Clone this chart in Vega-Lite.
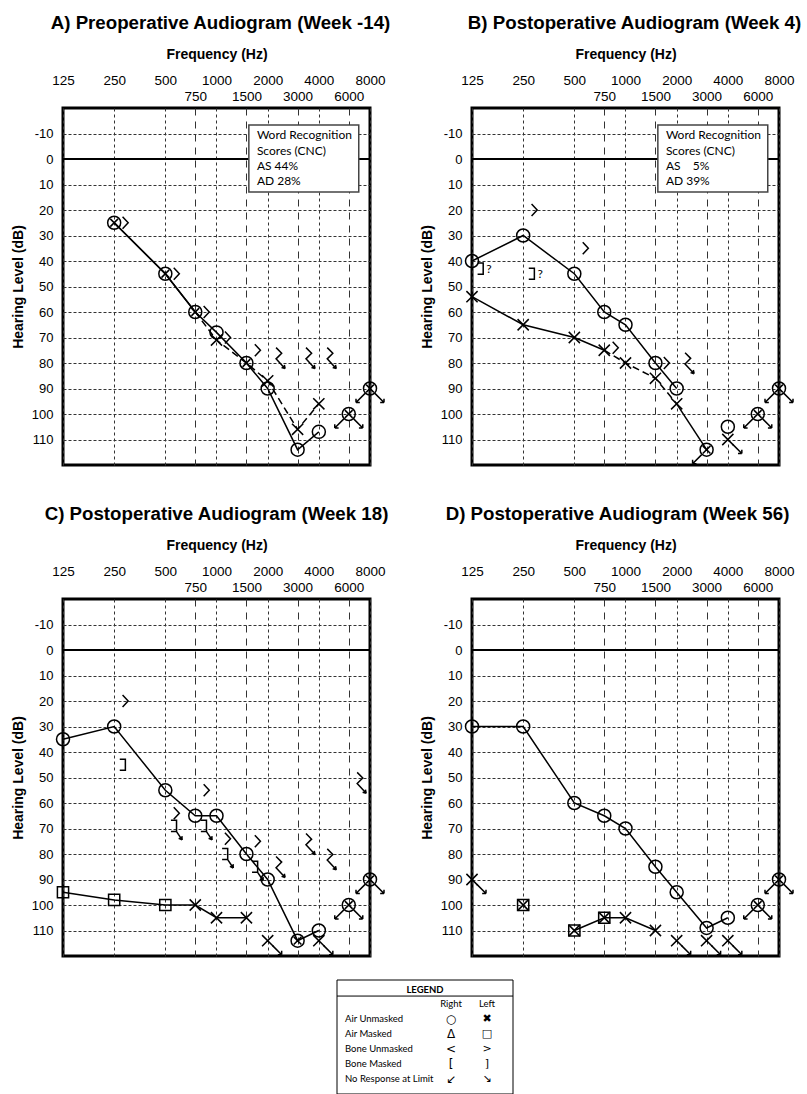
{
"$schema": "https://vega.github.io/schema/vega-lite/v6.json",
"background": "white",
"padding": {"left": 9, "top": 12, "right": 0, "bottom": 0},
"datasets": {
"A_line": [{"g":"R","f":250,"db":25},{"g":"R","f":500,"db":45},{"g":"R","f":750,"db":60},{"g":"R","f":1000,"db":68},{"g":"R","f":1500,"db":80},{"g":"R","f":2000,"db":90},{"g":"R","f":3000,"db":114},{"g":"R","f":4000,"db":107},
 {"g":"L","f":250,"db":25},{"g":"L","f":500,"db":45},{"g":"L","f":750,"db":60}],
"A_dline": [{"g":"L","f":750,"db":60},{"g":"L","f":1000,"db":71},{"g":"L","f":1500,"db":80},{"g":"L","f":2000,"db":87},{"g":"L","f":3000,"db":106},{"g":"L","f":4000,"db":96}],
"A_pts": [
{"f":250,"db":25,"s":"O"},{"f":250,"db":25,"s":"x"},{"f":250,"db":25,"s":"gt"},
{"f":500,"db":45,"s":"O"},{"f":500,"db":45,"s":"x"},{"f":500,"db":45,"s":"gt"},
{"f":750,"db":60,"s":"O"},{"f":750,"db":60,"s":"x"},{"f":750,"db":60,"s":"gt"},
{"f":1000,"db":68,"s":"O"},{"f":1000,"db":71,"s":"X"},{"f":1000,"db":70,"s":"gt"},
{"f":1500,"db":80,"s":"O"},{"f":1500,"db":80,"s":"x"},{"f":1500,"db":75,"s":"gt"},
{"f":2000,"db":90,"s":"O"},{"f":2000,"db":87,"s":"X"},{"f":2000,"db":77,"s":"gtNR"},
{"f":3000,"db":114,"s":"O"},{"f":3000,"db":106,"s":"X"},{"f":3000,"db":77,"s":"gtNR"},
{"f":4000,"db":107,"s":"O"},{"f":4000,"db":96,"s":"X"},{"f":4000,"db":77,"s":"gtNR"},
{"f":6000,"db":100,"s":"O"},{"f":6000,"db":100,"s":"x"},{"f":6000,"db":100,"s":"arrL"},{"f":6000,"db":100,"s":"arrR"},
{"f":8000,"db":90,"s":"O"},{"f":8000,"db":90,"s":"x"},{"f":8000,"db":90,"s":"arrL"},{"f":8000,"db":90,"s":"arrR"}],
"B_line": [{"g":"R","f":125,"db":40},{"g":"R","f":250,"db":30},{"g":"R","f":500,"db":45},{"g":"R","f":750,"db":60},{"g":"R","f":1000,"db":65},{"g":"R","f":1500,"db":80},{"g":"R","f":2000,"db":90},
 {"g":"L1","f":125,"db":54},{"g":"L1","f":250,"db":65},{"g":"L1","f":500,"db":70},{"g":"L1","f":750,"db":75},
 {"g":"L2","f":2000,"db":96},{"g":"L2","f":3000,"db":114}],
"B_dline": [{"g":"L","f":750,"db":75},{"g":"L","f":1000,"db":80},{"g":"L","f":1500,"db":86},{"g":"L","f":2000,"db":96}],
"B_pts": [
{"f":125,"db":40,"s":"O"},{"f":125,"db":43,"s":"rb"},{"f":125,"db":54,"s":"X"},
{"f":250,"db":30,"s":"O"},{"f":250,"db":20,"s":"gt"},{"f":250,"db":45,"s":"rb"},{"f":250,"db":65,"s":"X"},
{"f":500,"db":45,"s":"O"},{"f":500,"db":35,"s":"gt"},{"f":500,"db":70,"s":"X"},
{"f":750,"db":60,"s":"O"},{"f":750,"db":74,"s":"gt"},{"f":750,"db":75,"s":"X"},
{"f":1000,"db":65,"s":"O"},{"f":1000,"db":80,"s":"X"},
{"f":1500,"db":80,"s":"O"},{"f":1500,"db":80,"s":"gt"},{"f":1500,"db":86,"s":"X"},
{"f":2000,"db":90,"s":"O"},{"f":2000,"db":96,"s":"X"},{"f":2000,"db":79,"s":"gtNR"},
{"f":3000,"db":114,"s":"O"},{"f":3000,"db":114,"s":"x"},{"f":3000,"db":114,"s":"arrL"},
{"f":4000,"db":105,"s":"O"},{"f":4000,"db":110,"s":"X"},{"f":4000,"db":110,"s":"arrR"},
{"f":6000,"db":100,"s":"O"},{"f":6000,"db":100,"s":"x"},{"f":6000,"db":100,"s":"arrL"},{"f":6000,"db":100,"s":"arrR"},
{"f":8000,"db":90,"s":"O"},{"f":8000,"db":90,"s":"x"},{"f":8000,"db":90,"s":"arrL"},{"f":8000,"db":90,"s":"arrR"}],
"B_q": [{"f":125,"db":43,"t":"?"},{"f":250,"db":45,"t":"?"}],
"C_line": [{"g":"R","f":125,"db":35},{"g":"R","f":250,"db":30},{"g":"R","f":500,"db":55},{"g":"R","f":750,"db":65},{"g":"R","f":1000,"db":65},{"g":"R","f":1500,"db":80},{"g":"R","f":2000,"db":90},{"g":"R","f":3000,"db":114},{"g":"R","f":4000,"db":110},
 {"g":"L","f":125,"db":95},{"g":"L","f":250,"db":98},{"g":"L","f":500,"db":100},{"g":"L","f":750,"db":100},{"g":"L","f":1000,"db":105},{"g":"L","f":1500,"db":105}],
"C_pts": [
{"f":125,"db":35,"s":"O"},{"f":125,"db":95,"s":"SQ"},
{"f":250,"db":30,"s":"O"},{"f":250,"db":20,"s":"gt"},{"f":250,"db":45,"s":"rb"},{"f":250,"db":98,"s":"SQ"},
{"f":500,"db":55,"s":"O"},{"f":500,"db":64,"s":"gt"},{"f":500,"db":69,"s":"rbNR"},{"f":500,"db":100,"s":"SQ"},
{"f":750,"db":65,"s":"O"},{"f":750,"db":55,"s":"gt"},{"f":750,"db":69,"s":"rbNR"},{"f":750,"db":100,"s":"X"},
{"f":1000,"db":65,"s":"O"},{"f":1000,"db":74,"s":"gt"},{"f":1000,"db":80,"s":"rbNR"},{"f":1000,"db":105,"s":"X"},
{"f":1500,"db":80,"s":"O"},{"f":1500,"db":75,"s":"gt"},{"f":1500,"db":85,"s":"rbNR"},{"f":1500,"db":105,"s":"X"},
{"f":2000,"db":90,"s":"O"},{"f":2000,"db":84,"s":"gtNR"},{"f":2000,"db":114,"s":"X"},{"f":2000,"db":114,"s":"arrR"},
{"f":3000,"db":114,"s":"O"},{"f":3000,"db":114,"s":"x"},{"f":3000,"db":75,"s":"gtNR"},
{"f":4000,"db":110,"s":"O"},{"f":4000,"db":81,"s":"gtNR"},{"f":4000,"db":114,"s":"X"},{"f":4000,"db":114,"s":"arrR"},
{"f":6000,"db":51,"s":"gtNR"},
{"f":6000,"db":100,"s":"O"},{"f":6000,"db":100,"s":"x"},{"f":6000,"db":100,"s":"arrL"},{"f":6000,"db":100,"s":"arrR"},
{"f":8000,"db":90,"s":"O"},{"f":8000,"db":90,"s":"x"},{"f":8000,"db":90,"s":"arrL"},{"f":8000,"db":90,"s":"arrR"}],
"D_line": [{"g":"R","f":125,"db":30},{"g":"R","f":250,"db":30},{"g":"R","f":500,"db":60},{"g":"R","f":750,"db":65},{"g":"R","f":1000,"db":70},{"g":"R","f":1500,"db":85},{"g":"R","f":2000,"db":95},{"g":"R","f":3000,"db":109},{"g":"R","f":4000,"db":105},
 {"g":"L","f":500,"db":110},{"g":"L","f":750,"db":105},{"g":"L","f":1000,"db":105},{"g":"L","f":1500,"db":110}],
"D_pts": [
{"f":125,"db":30,"s":"O"},{"f":125,"db":90,"s":"X"},{"f":125,"db":90,"s":"arrR"},
{"f":250,"db":30,"s":"O"},{"f":250,"db":100,"s":"SQ"},{"f":250,"db":100,"s":"X"},
{"f":500,"db":60,"s":"O"},{"f":500,"db":110,"s":"SQ"},{"f":500,"db":110,"s":"X"},
{"f":750,"db":65,"s":"O"},{"f":750,"db":105,"s":"SQ"},{"f":750,"db":105,"s":"X"},
{"f":1000,"db":70,"s":"O"},{"f":1000,"db":105,"s":"X"},
{"f":1500,"db":85,"s":"O"},{"f":1500,"db":110,"s":"X"},
{"f":2000,"db":95,"s":"O"},{"f":2000,"db":114,"s":"X"},{"f":2000,"db":114,"s":"arrR"},
{"f":3000,"db":109,"s":"O"},{"f":3000,"db":114,"s":"X"},{"f":3000,"db":114,"s":"arrR"},
{"f":4000,"db":105,"s":"O"},{"f":4000,"db":114,"s":"X"},{"f":4000,"db":114,"s":"arrR"},
{"f":6000,"db":100,"s":"O"},{"f":6000,"db":100,"s":"x"},{"f":6000,"db":100,"s":"arrL"},{"f":6000,"db":100,"s":"arrR"},
{"f":8000,"db":90,"s":"O"},{"f":8000,"db":90,"s":"x"},{"f":8000,"db":90,"s":"arrL"},{"f":8000,"db":90,"s":"arrR"}],
"leg": [{"i":1,"label":"Air Unmasked","r":"○","l":"✖"},{"i":2,"label":"Air Masked","r":"Δ","l":"□"},{"i":3,"label":"Bone Unmasked","r":"<","l":">"},{"i":4,"label":"Bone Masked","r":"[","l":"]"},{"i":5,"label":"No Response at Limit","r":"↙","l":"↘"}],
"legh": [{"i":0,"r":"Right","l":"Left"}]
},
"spacing": 19,
"vconcat": [
{"concat": [
{"title": {"text": "A) Preoperative Audiogram (Week -14)", "dx": 4},
 "width": 307, "height": 357,
 "resolve": {"axis": {"x": "independent", "y": "independent"}},
 "layer": [
  {"data": {"values": [{}]}, "mark": {"type": "rule", "color": "black", "strokeWidth": 2},
   "encoding": {"y": {"datum": 0, "type": "quantitative", "scale": {"domain": [-20,120], "reverse": true, "nice": false, "zero": false}, "axis": null}}},
  {"data": {"values": [{}]}, "mark": {"type": "rect", "fill": "white", "stroke": "#444", "strokeWidth": 1.5},
   "encoding": {"x": {"datum": 1550, "type": "quantitative", "scale": {"type": "log", "domain": [125,8000], "nice": false}, "axis": null}, "x2": {"datum": 6870},
    "y": {"datum": -13.3, "type": "quantitative", "scale": {"domain": [-20,120], "reverse": true, "nice": false, "zero": false}, "axis": null}, "y2": {"datum": 12.9}}},
  {"data": {"values": [{}]}, "mark": {"type": "text", "align": "left", "baseline": "alphabetic", "font": "Lato", "fontSize": 12, "lineHeight": 15.2, "color": "black"},
   "encoding": {"x": {"datum": 1728, "type": "quantitative", "scale": {"type": "log", "domain": [125,8000], "nice": false}, "axis": null},
    "y": {"datum": -7.7, "type": "quantitative", "scale": {"domain": [-20,120], "reverse": true, "nice": false, "zero": false}, "axis": null},
    "text": {"value": ["Word Recognition", "Scores (CNC)", "AS 44%", "AD 28%"]}}},
  {"data": {"name": "A_line"}, "mark": {"type": "line", "color": "black", "strokeWidth": 1.5},
   "encoding": {"x": {"field": "f", "type": "quantitative", "scale": {"type": "log", "domain": [125,8000], "nice": false},
     "axis": {"orient": "top", "values": [125,250,500,1000,2000,4000,8000], "grid": true, "gridDash": [3,3], "labelExpr": "'' + datum.value", "labelPadding": 21, "title": "Frequency (Hz)", "titlePadding": 12}},
    "y": {"field": "db", "type": "quantitative", "scale": {"domain": [-20,120], "reverse": true, "nice": false, "zero": false}, "axis": null},
    "detail": {"field": "g"}}},
  {"data": {"name": "A_dline"}, "mark": {"type": "line", "color": "black", "strokeWidth": 1.5, "strokeDash": [7,4]},
   "encoding": {"x": {"field": "f", "type": "quantitative", "scale": {"type": "log", "domain": [125,8000], "nice": false}, "axis": null},
    "y": {"field": "db", "type": "quantitative", "scale": {"domain": [-20,120], "reverse": true, "nice": false, "zero": false}, "axis": null},
    "detail": {"field": "g"}}},
  {"data": {"name": "A_pts"}, "mark": {"type": "point", "filled": false, "color": "black", "strokeWidth": 1.5, "size": 196, "opacity": 1},
   "encoding": {"x": {"field": "f", "type": "quantitative", "scale": {"type": "log", "domain": [125,8000], "nice": false},
     "axis": {"orient": "top", "values": [750,1500,3000,6000], "grid": true, "gridDash": [7,6], "labelExpr": "'' + datum.value", "labelPadding": 4.5, "title": null}},
    "y": {"field": "db", "type": "quantitative", "scale": {"domain": [-20,120], "reverse": true, "nice": false, "zero": false},
     "axis": {"orient": "left", "values": [-10,0,10,20,30,40,50,60,70,80,90,100,110], "grid": true, "gridDash": [3,2], "labelExpr": "'' + datum.value", "labelFontSize": 13, "labelPadding": 10, "title": "Hearing Level (dB)", "titlePadding": 6}},
    "shape": {"field": "s", "type": "nominal", "legend": null, "scale": {"domain": ["O","X","x","SQ","gt","rb","gtNR","rbNR","arrL","arrR"], "range": ["M0.93,0A0.93,0.93,0,1,1,-0.93,0A0.93,0.93,0,1,1,0.93,0Z","M-0.8,-0.8L0.8,0.8M-0.8,0.8L0.8,-0.8","M-0.55,-0.55L0.55,0.55M-0.55,0.55L0.55,-0.55","M-0.8,-0.8L0.8,-0.8L0.8,0.8L-0.8,0.8Z","M1.2,-0.85L2,0L1.2,0.85","M0.8,-0.8L1.6,-0.8L1.6,0.8L0.8,0.8","M1.2,-1.1L2,-0.3L1.2,0.5L2.5,1.9M2.5,1.9L1.98,1.74M2.5,1.9L2.38,1.37","M0.8,-0.8L1.6,-0.8L1.6,0.8L0.8,0.8M1.6,0.8L2.4,2M2.4,2L1.91,1.76M2.4,2L2.37,1.45","M-0.7,0.7L-2,2M-2,2L-1.45,2M-2,2L-2,1.45","M0.7,0.7L2,2M2,2L1.45,2M2,2L2,1.45"]}}}}
 ]},
{"title": {"text": "B) Postoperative Audiogram (Week 4)", "dx": 9},
 "width": 307, "height": 357,
 "resolve": {"axis": {"x": "independent", "y": "independent"}},
 "layer": [
  {"data": {"values": [{}]}, "mark": {"type": "rule", "color": "black", "strokeWidth": 2},
   "encoding": {"y": {"datum": 0, "type": "quantitative", "scale": {"domain": [-20,120], "reverse": true, "nice": false, "zero": false}, "axis": null}}},
  {"data": {"values": [{}]}, "mark": {"type": "rect", "fill": "white", "stroke": "#444", "strokeWidth": 1.5},
   "encoding": {"x": {"datum": 1550, "type": "quantitative", "scale": {"type": "log", "domain": [125,8000], "nice": false}, "axis": null}, "x2": {"datum": 6870},
    "y": {"datum": -13.3, "type": "quantitative", "scale": {"domain": [-20,120], "reverse": true, "nice": false, "zero": false}, "axis": null}, "y2": {"datum": 12.9}}},
  {"data": {"values": [{}]}, "mark": {"type": "text", "align": "left", "baseline": "alphabetic", "font": "Lato", "fontSize": 12, "lineHeight": 15.2, "color": "black"},
   "encoding": {"x": {"datum": 1728, "type": "quantitative", "scale": {"type": "log", "domain": [125,8000], "nice": false}, "axis": null},
    "y": {"datum": -7.7, "type": "quantitative", "scale": {"domain": [-20,120], "reverse": true, "nice": false, "zero": false}, "axis": null},
    "text": {"value": ["Word Recognition", "Scores (CNC)", "AS\u00a0\u00a0\u00a0\u00a05%", "AD 39%"]}}},
  {"data": {"name": "B_line"}, "mark": {"type": "line", "color": "black", "strokeWidth": 1.5},
   "encoding": {"x": {"field": "f", "type": "quantitative", "scale": {"type": "log", "domain": [125,8000], "nice": false},
     "axis": {"orient": "top", "values": [125,250,500,1000,2000,4000,8000], "grid": true, "gridDash": [3,3], "labelExpr": "'' + datum.value", "labelPadding": 21, "title": "Frequency (Hz)", "titlePadding": 12}},
    "y": {"field": "db", "type": "quantitative", "scale": {"domain": [-20,120], "reverse": true, "nice": false, "zero": false}, "axis": null},
    "detail": {"field": "g"}}},
  {"data": {"name": "B_dline"}, "mark": {"type": "line", "color": "black", "strokeWidth": 1.5, "strokeDash": [7,4]},
   "encoding": {"x": {"field": "f", "type": "quantitative", "scale": {"type": "log", "domain": [125,8000], "nice": false}, "axis": null},
    "y": {"field": "db", "type": "quantitative", "scale": {"domain": [-20,120], "reverse": true, "nice": false, "zero": false}, "axis": null},
    "detail": {"field": "g"}}},
  {"data": {"name": "B_q"}, "mark": {"type": "text", "align": "center", "baseline": "middle", "dx": 17, "font": "Lato", "fontSize": 12, "color": "black"},
   "encoding": {"x": {"field": "f", "type": "quantitative", "scale": {"type": "log", "domain": [125,8000], "nice": false}, "axis": null},
    "y": {"field": "db", "type": "quantitative", "scale": {"domain": [-20,120], "reverse": true, "nice": false, "zero": false}, "axis": null},
    "text": {"field": "t"}}},
  {"data": {"name": "B_pts"}, "mark": {"type": "point", "filled": false, "color": "black", "strokeWidth": 1.5, "size": 196, "opacity": 1},
   "encoding": {"x": {"field": "f", "type": "quantitative", "scale": {"type": "log", "domain": [125,8000], "nice": false},
     "axis": {"orient": "top", "values": [750,1500,3000,6000], "grid": true, "gridDash": [7,6], "labelExpr": "'' + datum.value", "labelPadding": 4.5, "title": null}},
    "y": {"field": "db", "type": "quantitative", "scale": {"domain": [-20,120], "reverse": true, "nice": false, "zero": false},
     "axis": {"orient": "left", "values": [-10,0,10,20,30,40,50,60,70,80,90,100,110], "grid": true, "gridDash": [3,2], "labelExpr": "'' + datum.value", "labelFontSize": 13, "labelPadding": 10, "title": "Hearing Level (dB)", "titlePadding": 6}},
    "shape": {"field": "s", "type": "nominal", "legend": null, "scale": {"domain": ["O","X","x","SQ","gt","rb","gtNR","rbNR","arrL","arrR"], "range": ["M0.93,0A0.93,0.93,0,1,1,-0.93,0A0.93,0.93,0,1,1,0.93,0Z","M-0.8,-0.8L0.8,0.8M-0.8,0.8L0.8,-0.8","M-0.55,-0.55L0.55,0.55M-0.55,0.55L0.55,-0.55","M-0.8,-0.8L0.8,-0.8L0.8,0.8L-0.8,0.8Z","M1.2,-0.85L2,0L1.2,0.85","M0.8,-0.8L1.6,-0.8L1.6,0.8L0.8,0.8","M1.2,-1.1L2,-0.3L1.2,0.5L2.5,1.9M2.5,1.9L1.98,1.74M2.5,1.9L2.38,1.37","M0.8,-0.8L1.6,-0.8L1.6,0.8L0.8,0.8M1.6,0.8L2.4,2M2.4,2L1.91,1.76M2.4,2L2.37,1.45","M-0.7,0.7L-2,2M-2,2L-1.45,2M-2,2L-2,1.45","M0.7,0.7L2,2M2,2L1.45,2M2,2L2,1.45"]}}}}
 ]},
{"title": {"text": "C) Postoperative Audiogram (Week 18)", "dx": 0},
 "width": 307, "height": 357,
 "resolve": {"axis": {"x": "independent", "y": "independent"}},
 "layer": [
  {"data": {"values": [{}]}, "mark": {"type": "rule", "color": "black", "strokeWidth": 2},
   "encoding": {"y": {"datum": 0, "type": "quantitative", "scale": {"domain": [-20,120], "reverse": true, "nice": false, "zero": false}, "axis": null}}},
  {"data": {"name": "C_line"}, "mark": {"type": "line", "color": "black", "strokeWidth": 1.5},
   "encoding": {"x": {"field": "f", "type": "quantitative", "scale": {"type": "log", "domain": [125,8000], "nice": false},
     "axis": {"orient": "top", "values": [125,250,500,1000,2000,4000,8000], "grid": true, "gridDash": [3,3], "labelExpr": "'' + datum.value", "labelPadding": 21, "title": "Frequency (Hz)", "titlePadding": 12}},
    "y": {"field": "db", "type": "quantitative", "scale": {"domain": [-20,120], "reverse": true, "nice": false, "zero": false}, "axis": null},
    "detail": {"field": "g"}}},
  {"data": {"name": "C_pts"}, "mark": {"type": "point", "filled": false, "color": "black", "strokeWidth": 1.5, "size": 196, "opacity": 1},
   "encoding": {"x": {"field": "f", "type": "quantitative", "scale": {"type": "log", "domain": [125,8000], "nice": false},
     "axis": {"orient": "top", "values": [750,1500,3000,6000], "grid": true, "gridDash": [7,6], "labelExpr": "'' + datum.value", "labelPadding": 4.5, "title": null}},
    "y": {"field": "db", "type": "quantitative", "scale": {"domain": [-20,120], "reverse": true, "nice": false, "zero": false},
     "axis": {"orient": "left", "values": [-10,0,10,20,30,40,50,60,70,80,90,100,110], "grid": true, "gridDash": [3,2], "labelExpr": "'' + datum.value", "labelFontSize": 13, "labelPadding": 10, "title": "Hearing Level (dB)", "titlePadding": 6}},
    "shape": {"field": "s", "type": "nominal", "legend": null, "scale": {"domain": ["O","X","x","SQ","gt","rb","gtNR","rbNR","arrL","arrR"], "range": ["M0.93,0A0.93,0.93,0,1,1,-0.93,0A0.93,0.93,0,1,1,0.93,0Z","M-0.8,-0.8L0.8,0.8M-0.8,0.8L0.8,-0.8","M-0.55,-0.55L0.55,0.55M-0.55,0.55L0.55,-0.55","M-0.8,-0.8L0.8,-0.8L0.8,0.8L-0.8,0.8Z","M1.2,-0.85L2,0L1.2,0.85","M0.8,-0.8L1.6,-0.8L1.6,0.8L0.8,0.8","M1.2,-1.1L2,-0.3L1.2,0.5L2.5,1.9M2.5,1.9L1.98,1.74M2.5,1.9L2.38,1.37","M0.8,-0.8L1.6,-0.8L1.6,0.8L0.8,0.8M1.6,0.8L2.4,2M2.4,2L1.91,1.76M2.4,2L2.37,1.45","M-0.7,0.7L-2,2M-2,2L-1.45,2M-2,2L-2,1.45","M0.7,0.7L2,2M2,2L1.45,2M2,2L2,1.45"]}}}}
 ]},
{"title": {"text": "D) Postoperative Audiogram (Week 56)", "dx": -8},
 "width": 307, "height": 357,
 "resolve": {"axis": {"x": "independent", "y": "independent"}},
 "layer": [
  {"data": {"values": [{}]}, "mark": {"type": "rule", "color": "black", "strokeWidth": 2},
   "encoding": {"y": {"datum": 0, "type": "quantitative", "scale": {"domain": [-20,120], "reverse": true, "nice": false, "zero": false}, "axis": null}}},
  {"data": {"name": "D_line"}, "mark": {"type": "line", "color": "black", "strokeWidth": 1.5},
   "encoding": {"x": {"field": "f", "type": "quantitative", "scale": {"type": "log", "domain": [125,8000], "nice": false},
     "axis": {"orient": "top", "values": [125,250,500,1000,2000,4000,8000], "grid": true, "gridDash": [3,3], "labelExpr": "'' + datum.value", "labelPadding": 21, "title": "Frequency (Hz)", "titlePadding": 12}},
    "y": {"field": "db", "type": "quantitative", "scale": {"domain": [-20,120], "reverse": true, "nice": false, "zero": false}, "axis": null},
    "detail": {"field": "g"}}},
  {"data": {"name": "D_pts"}, "mark": {"type": "point", "filled": false, "color": "black", "strokeWidth": 1.5, "size": 196, "opacity": 1},
   "encoding": {"x": {"field": "f", "type": "quantitative", "scale": {"type": "log", "domain": [125,8000], "nice": false},
     "axis": {"orient": "top", "values": [750,1500,3000,6000], "grid": true, "gridDash": [7,6], "labelExpr": "'' + datum.value", "labelPadding": 4.5, "title": null}},
    "y": {"field": "db", "type": "quantitative", "scale": {"domain": [-20,120], "reverse": true, "nice": false, "zero": false},
     "axis": {"orient": "left", "values": [-10,0,10,20,30,40,50,60,70,80,90,100,110], "grid": true, "gridDash": [3,2], "labelExpr": "'' + datum.value", "labelFontSize": 13, "labelPadding": 10, "title": "Hearing Level (dB)", "titlePadding": 6}},
    "shape": {"field": "s", "type": "nominal", "legend": null, "scale": {"domain": ["O","X","x","SQ","gt","rb","gtNR","rbNR","arrL","arrR"], "range": ["M0.93,0A0.93,0.93,0,1,1,-0.93,0A0.93,0.93,0,1,1,0.93,0Z","M-0.8,-0.8L0.8,0.8M-0.8,0.8L0.8,-0.8","M-0.55,-0.55L0.55,0.55M-0.55,0.55L0.55,-0.55","M-0.8,-0.8L0.8,-0.8L0.8,0.8L-0.8,0.8Z","M1.2,-0.85L2,0L1.2,0.85","M0.8,-0.8L1.6,-0.8L1.6,0.8L0.8,0.8","M1.2,-1.1L2,-0.3L1.2,0.5L2.5,1.9M2.5,1.9L1.98,1.74M2.5,1.9L2.38,1.37","M0.8,-0.8L1.6,-0.8L1.6,0.8L0.8,0.8M1.6,0.8L2.4,2M2.4,2L1.91,1.76M2.4,2L2.37,1.45","M-0.7,0.7L-2,2M-2,2L-1.45,2M-2,2L-2,1.45","M0.7,0.7L2,2M2,2L1.45,2M2,2L2,1.45"]}}}}
 ]}
], "columns": 2, "bounds": "flush", "spacing": {"row": 134, "column": 102}},
{"width": 450, "height": 114,
 "view": {"stroke": null},
 "layer": [
  {"data": {"values": [{}]}, "mark": {"type": "rect", "fill": "white", "stroke": "black", "strokeWidth": 1},
   "encoding": {"x": {"datum": 274, "type": "quantitative", "scale": {"domain": [0,450], "nice": false, "zero": false}, "axis": null}, "x2": {"datum": 450},
    "y": {"datum": -1.58, "type": "quantitative", "scale": {"domain": [-1.58,6.02], "reverse": true, "nice": false, "zero": false}, "axis": null}, "y2": {"datum": 6.02}}},
  {"data": {"values": [{}]}, "mark": {"type": "rule", "color": "black", "strokeWidth": 1},
   "encoding": {"x": {"datum": 274, "type": "quantitative", "scale": {"domain": [0,450], "nice": false, "zero": false}, "axis": null}, "x2": {"datum": 450},
    "y": {"datum": -0.51, "type": "quantitative", "scale": {"domain": [-1.58,6.02], "reverse": true, "nice": false, "zero": false}, "axis": null}}},
  {"data": {"values": [{}]}, "mark": {"type": "text", "font": "Lato", "fontWeight": "bold", "fontSize": 9.5, "align": "center", "baseline": "middle", "color": "black"},
   "encoding": {"x": {"datum": 362, "type": "quantitative", "scale": {"domain": [0,450], "nice": false, "zero": false}, "axis": null},
    "y": {"datum": -0.91, "type": "quantitative", "scale": {"domain": [-1.58,6.02], "reverse": true, "nice": false, "zero": false}, "axis": null},
    "text": {"value": "LEGEND"}}},
  {"data": {"name": "leg"}, "mark": {"type": "text", "font": "Lato", "fontSize": 9.5, "align": "left", "baseline": "middle", "color": "black"},
   "encoding": {"x": {"datum": 282, "type": "quantitative", "scale": {"domain": [0,450], "nice": false, "zero": false}, "axis": null},
    "y": {"field": "i", "type": "quantitative", "scale": {"domain": [-1.58,6.02], "reverse": true, "nice": false, "zero": false}, "axis": null},
    "text": {"field": "label"}}},
  {"data": {"name": "leg"}, "mark": {"type": "text", "font": "DejaVu Sans", "fontSize": 12, "align": "center", "baseline": "middle", "color": "black"},
   "encoding": {"x": {"datum": 388, "type": "quantitative", "scale": {"domain": [0,450], "nice": false, "zero": false}, "axis": null},
    "y": {"field": "i", "type": "quantitative", "scale": {"domain": [-1.58,6.02], "reverse": true, "nice": false, "zero": false}, "axis": null},
    "text": {"field": "r"}}},
  {"data": {"name": "leg"}, "mark": {"type": "text", "font": "DejaVu Sans", "fontSize": 11, "align": "center", "baseline": "middle", "color": "black"},
   "encoding": {"x": {"datum": 424, "type": "quantitative", "scale": {"domain": [0,450], "nice": false, "zero": false}, "axis": null},
    "y": {"field": "i", "type": "quantitative", "scale": {"domain": [-1.58,6.02], "reverse": true, "nice": false, "zero": false}, "axis": null},
    "text": {"field": "l"}}},
  {"data": {"name": "legh"}, "mark": {"type": "text", "font": "Lato", "fontSize": 9.5, "align": "center", "baseline": "middle", "color": "black"},
   "encoding": {"x": {"datum": 388, "type": "quantitative", "scale": {"domain": [0,450], "nice": false, "zero": false}, "axis": null},
    "y": {"field": "i", "type": "quantitative", "scale": {"domain": [-1.58,6.02], "reverse": true, "nice": false, "zero": false}, "axis": null},
    "text": {"field": "r"}}},
  {"data": {"name": "legh"}, "mark": {"type": "text", "font": "Lato", "fontSize": 9.5, "align": "center", "baseline": "middle", "color": "black"},
   "encoding": {"x": {"datum": 424, "type": "quantitative", "scale": {"domain": [0,450], "nice": false, "zero": false}, "axis": null},
    "y": {"field": "i", "type": "quantitative", "scale": {"domain": [-1.58,6.02], "reverse": true, "nice": false, "zero": false}, "axis": null},
    "text": {"field": "l"}}}
 ]}
],
"config": {
 "view": {"stroke": "black", "strokeWidth": 3},
 "title": {"font": "Liberation Sans", "fontSize": 18.7, "fontWeight": "bold", "color": "black", "anchor": "middle", "frame": "group", "baseline": "bottom", "offset": 14},
 "axis": {"domain": false, "ticks": false, "tickSize": 0, "labelFont": "Liberation Sans", "labelFontSize": 13.5, "labelColor": "black", "titleFont": "Liberation Sans", "titleFontSize": 14, "titleFontWeight": "bold", "titleColor": "black", "gridColor": "#333", "gridOpacity": 1, "gridWidth": 1, "labelOverlap": false, "labelFlush": false}
}
}
